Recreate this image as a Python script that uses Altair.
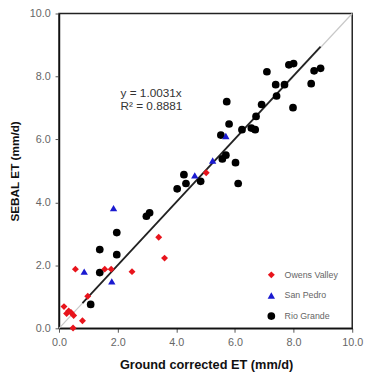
import altair as alt
import pandas as pd

# Owens Valley (red diamonds)
ov_x = [0.17, 0.26, 0.33, 0.41, 0.50, 0.48, 0.80, 0.98, 0.56, 1.56, 1.78, 2.49, 3.40, 3.60, 5.02]
ov_y = [0.69, 0.47, 0.55, 0.50, 0.41, 0.01, 0.24, 1.02, 1.88, 1.88, 1.88, 1.80, 2.89, 2.23, 4.94]

# San Pedro (blue triangles)
sp_x = [0.86, 1.80, 1.86, 4.63, 5.24, 5.69]
sp_y = [1.80, 1.49, 3.82, 4.86, 5.33, 6.11]

# Rio Grande (black circles)
rg_x = [1.08, 1.39, 1.39, 1.97, 1.97, 2.98, 3.09, 4.03, 4.26, 4.33, 4.83, 5.57, 5.69,
        6.02, 6.11, 5.52, 5.80, 5.72, 6.24, 6.56, 6.69, 6.72, 6.91, 7.09, 7.39, 7.42,
        7.69, 7.84, 8.00, 7.98, 8.60, 8.70, 8.92]
rg_y = [0.76, 1.77, 2.50, 2.34, 3.04, 3.56, 3.67, 4.43, 4.88, 4.60, 4.67, 5.38, 5.50,
        5.26, 4.60, 6.14, 6.49, 7.20, 6.31, 6.36, 6.31, 6.73, 7.11, 8.15, 7.74, 7.38,
        7.74, 8.37, 8.41, 7.01, 7.77, 8.18, 8.26]

series = ["Owens Valley", "San Pedro", "Rio Grande"]
colors = ["#e8141c", "#1a1ad0", "#000000"]
shapes = ["diamond", "triangle-up", "circle"]
sizes = [50, 62, 66]

# 1:1 line and regression line y = 1.0031x
one_x = [0.0, 10.0]
one_y = [0.0, 10.0]
slope = 1.0031
reg_x = [0.8, 8.92]
reg_y = [slope * v for v in reg_x]

eq_lines = ["y = 1.0031x", "R\u00b2 = 0.8881"]
eq_x = [2.1, 2.1]
eq_y = [7.48, 7.07]

rows = []
for name, xs, ys in [("Rio Grande", rg_x, rg_y), ("Owens Valley", ov_x, ov_y), ("San Pedro", sp_x, sp_y)]:
    for a, b in zip(xs, ys):
        rows.append({"x": a, "y": b, "site": name})
pts = pd.DataFrame(rows)

xscale = alt.Scale(domain=[0, 10], nice=False)
yscale = alt.Scale(domain=[0, 10], nice=False)

xaxis = alt.Axis(values=[0, 2, 4, 6, 8, 10], format=".1f", title="Ground corrected ET (mm/d)",
                 grid=False, tickSize=4, labelPadding=5, labelFontSize=11, labelColor="#666",
                 labelFont="Liberation Sans", tickColor="#555", domainColor="#111", domainWidth=1.5,
                 titleFont="Liberation Sans", titleFontSize=13, titleFontWeight="bold", titleColor="#111",
                 titleX=150, titleY=37, titleBaseline="middle", titleAlign="center",
                 labelFlush=False)
yaxis = alt.Axis(values=[0, 2, 4, 6, 8, 10], format=".1f", title="SEBAL ET (mm/d)",
                 grid=False, tickSize=4, labelPadding=5, labelFontSize=11, labelColor="#666",
                 labelFont="Liberation Sans", tickColor="#555", domainColor="#111", domainWidth=1.5,
                 titleFont="Liberation Sans", titleFontSize=12, titleFontWeight="bold", titleColor="#111",
                 titleX=-45, titleY=160.5, titleBaseline="middle", titleAlign="center", titleAngle=270,
                 labelFlush=False)

one_df = pd.DataFrame({"x": one_x, "y": one_y})
reg_df = pd.DataFrame({"x": reg_x, "y": reg_y})
eq_df = pd.DataFrame({"x": eq_x, "y": eq_y, "t": eq_lines})

one_line = alt.Chart(one_df).mark_line(color="#c8c8c8", strokeWidth=1.2).encode(
    x=alt.X("x:Q", scale=xscale, axis=xaxis), y=alt.Y("y:Q", scale=yscale, axis=yaxis))
reg_line = alt.Chart(reg_df).mark_line(color="#222", strokeWidth=1.8).encode(
    x=alt.X("x:Q", scale=xscale), y=alt.Y("y:Q", scale=yscale))

points = alt.Chart(pts).mark_point(filled=True, opacity=1).encode(
    x=alt.X("x:Q", scale=xscale),
    y=alt.Y("y:Q", scale=yscale),
    color=alt.Color("site:N", scale=alt.Scale(domain=series, range=colors), legend=alt.Legend(
        title=None, orient="none", legendX=212, legendY=262, padding=0, rowPadding=11,
        labelFontSize=9, labelColor="#666", labelFont="Liberation Sans", labelOffset=9,
        symbolSize=30, symbolStrokeWidth=0)),
    shape=alt.Shape("site:N", scale=alt.Scale(domain=series, range=shapes)),
    size=alt.Size("site:N", scale=alt.Scale(domain=series, range=sizes), legend=None),
)

eq_text = alt.Chart(eq_df).mark_text(align="left", baseline="middle", fontSize=12,
                                     font="Liberation Sans", color="#333").encode(
    x=alt.X("x:Q", scale=xscale), y=alt.Y("y:Q", scale=yscale), text="t:N")

chart = alt.layer(one_line, reg_line, points, eq_text).properties(
    width=299, height=321,
    autosize=alt.AutoSizeParams(type="none"),
    padding={"left": 52, "top": 2, "right": 12, "bottom": 45},
).configure_view(stroke="#222", strokeWidth=1.5)

chart.save("out.html", embed_options={"renderer": "svg", "actions": False})
